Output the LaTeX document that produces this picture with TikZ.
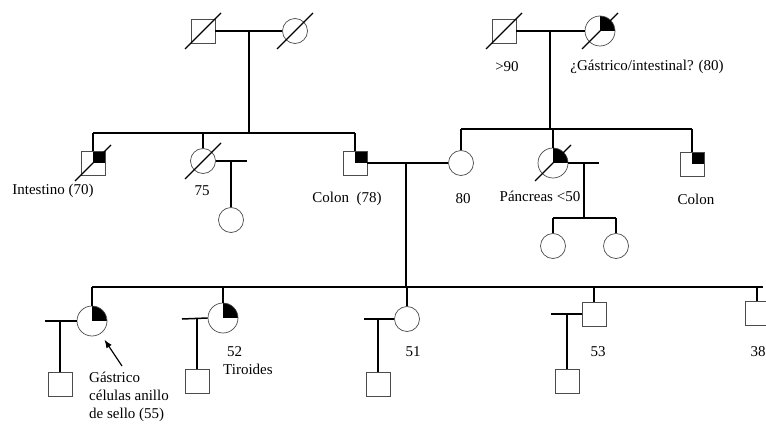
\documentclass[tikz,border=0pt]{standalone}
\usepackage{fontspec}
\setmainfont{Liberation Serif}
\usetikzlibrary{arrows.meta,positioning}
\tikzset{
  varon/.style={draw=black!70,line width=0.7pt,fill=white,minimum size=24pt,inner sep=0pt},
  mujer/.style={circle,draw=black!70,line width=0.7pt,fill=white,minimum size=25pt,inner sep=0pt},
  grande/.style={minimum size=30pt},
  afectado/.style={path picture={\fill[black] (path picture bounding box.center) rectangle (path picture bounding box.north east);}},
  linea/.style={line width=1.5pt},
  tachado/.style={line width=1.3pt},
  etiq/.style={font=\fontsize{15}{18}\selectfont,inner sep=0pt}
}

\begin{document}
\begin{tikzpicture}[x=1pt,y=-1pt]
\useasboundingbox (0,0) rectangle (766,428);
\clip (0,0) rectangle (766,428);
% generacion I
\node[varon] (abuelo1) at (203,31) {};
\node[mujer] (abuela1) at (295,31) {};
\node[varon] (abuelo2) at (504,31) {};
\node[mujer,grande,afectado] (abuela2) at (600,31) {};
\node[etiq] (lb90) at (507,67) {>90};
\node[etiq] (lbGI) at (647,67) {¿Gástrico/intestinal? (80)};
% generacion II
\node[varon,afectado] (tio1) at (93,163) {};
\node[mujer] (tia1) at (203,161) {};
\node[mujer] (prima1) at (231,220) {};
\node[varon,afectado] (padre) at (355,163) {};
\node[mujer] (madre) at (461,163) {};
\node[mujer,grande,afectado] (tia2) at (553,163) {};
\node[mujer] (prima2) at (553,246) {};
\node[mujer] (prima3) at (616,246) {};
\node[varon,afectado] (tio2) at (692,164) {};
\node[etiq] (lbInt) at (53,191) {Intestino (70)};
\node[etiq] (lb75) at (202,191) {75};
\node[etiq] (lbCol1) at (347,199) {Colon\ \ (78)};
\node[etiq] (lb80) at (463,199) {80};
\node[etiq] (lbPan) at (540,196) {Páncreas <50};
\node[etiq] (lbCol2) at (696,199) {Colon};
% generacion III
\node[mujer,grande,afectado] (hija1) at (92,321) {};
\node[varon] (nieto1) at (60,384) {};
\node[mujer,grande,afectado] (hija2) at (223,318) {};
\node[varon] (nieto2) at (197,381) {};
\node[mujer] (hija3) at (407,319) {};
\node[varon] (nieto3) at (378,384) {};
\node[varon] (hijo4) at (594,314) {};
\node[varon] (nieto4) at (567,381) {};
\node[varon] (hijo5) at (757,313) {};
\node[etiq,align=left,anchor=west] (lbGas) at (89,397) {Gástrico\\células anillo\\de sello (55)};
\node[etiq,align=left,anchor=west] (lbTir) at (223,361) {\hspace{4pt}52\\Tiroides};
\node[etiq] (lb51) at (413,352) {51};
\node[etiq] (lb53) at (598,352) {53};
\node[etiq] (lb38) at (758,352) {38};

% puntos de union
\coordinate (u1) at (249,31);
\coordinate (u2) at (550,31);
\coordinate (s1) at (93,133);
\coordinate (s2) at (692,129);
\coordinate (u3) at (406,163);
\coordinate (s3) at (763,287);
\coordinate (e1) at (247,161); \coordinate (u4) at (231,161);
\coordinate (e2) at (599,163); \coordinate (u5) at (584,163);
\coordinate (s4) at (616,218);
\coordinate (e3) at (45,321);  \coordinate (u6) at (60,321);
\coordinate (e4) at (182,319); \coordinate (u7) at (197,319);
\coordinate (e5) at (364,319); \coordinate (u8) at (378,319);
\coordinate (e6) at (551,314); \coordinate (u9) at (567,314);
\coordinate (fl) at (122,366);

% parejas
\draw[linea] (abuelo1.east) -- (abuela1.west);
\draw[linea] (abuelo2.east) -- (abuela2.west);
\draw[linea] (padre.east) -- (madre.west);
\draw[linea] (tia1.east) -- (e1);
\draw[linea] (tia2.east) -- (e2);
\draw[linea] (hija1.west) -- (e3);
\draw[linea] (hija2.west) -- (e4);
\draw[linea] (hija3.west) -- (e5);
\draw[linea] (hijo4.west) -- (e6);
% hermandades
\draw[linea] (u1) -- (u1 |- s1);
\draw[linea] (s1) -- (padre.north |- s1);
\foreach \n in {tio1,tia1,padre} \draw[linea] (\n.north) -- (\n.north |- s1);
\draw[linea] (u2) -- (u2 |- s2);
\draw[linea] (madre.north |- s2) -- (s2);
\foreach \n in {madre,tia2,tio2} \draw[linea] (\n.north) -- (\n.north |- s2);
\draw[linea] (u3) -- (u3 |- s3);
\draw[linea] (hija1.north |- s3) -- (s3);
\foreach \n in {hija1,hija2,hija3,hijo4,hijo5} \draw[linea] (\n.north) -- (\n.north |- s3);
\draw[linea] (u5) -- (u5 |- s4);
\draw[linea] (prima2.north |- s4) -- (s4);
\foreach \n in {prima2,prima3} \draw[linea] (\n.north) -- (\n.north |- s4);
% descendencia directa
\draw[linea] (u4) -- (prima1.north);
\draw[linea] (u6) -- (nieto1.north);
\draw[linea] (u7) -- (nieto2.north);
\draw[linea] (u8) -- (nieto3.north);
\draw[linea] (u9) -- (nieto4.north);
% fallecidos
\foreach \n in {abuelo1,abuela1,abuelo2,abuela2,tio1,tia1,tia2}
  \draw[tachado] ([shift={(-18,18)}]\n.center) -- ([shift={(18,-18)}]\n.center);
\draw[line width=1.2pt,-{Latex},shorten >=7pt] (fl) -- (hija1);
\end{tikzpicture}
\end{document}
